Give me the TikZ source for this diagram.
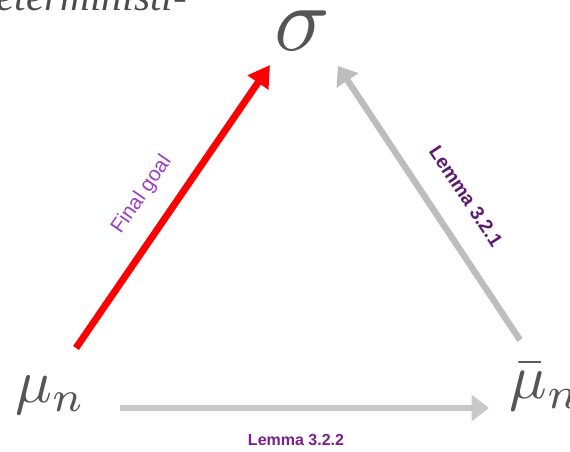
\documentclass[tikz,border=0pt]{standalone}
\usepackage{fontspec}
\setmainfont{Liberation Serif}
\setsansfont{Liberation Sans}
\usetikzlibrary{arrows.meta}
\definecolor{mathgray}{HTML}{555555}
\definecolor{arrgray}{HTML}{C8C8C8}
\definecolor{arrgrayb}{HTML}{BDBDBD}
\definecolor{lightpurple}{HTML}{9C3FC0}
\definecolor{darkpurple}{HTML}{5E1A72}
\definecolor{midpurple}{HTML}{7A1F8E}
\begin{document}
\begin{tikzpicture}[x=0.75pt,y=-0.75pt,
  mathlbl/.style={text=mathgray,inner sep=0pt,font=\fontsize{10}{12}\selectfont},
  redarr/.style={draw=red,line width=5.2pt,-{Triangle[length=16pt,width=18pt]}},
  grayarr/.style={draw=arrgray,line width=4.8pt,-{Triangle[length=13pt,width=19pt]}},
  lemmalbl/.style={font=\sffamily\bfseries,inner sep=0pt},
]
\useasboundingbox (0,0) rectangle (570,452);
\node[anchor=base west,inner sep=0pt,text=black!70,font={\fontsize{31}{34}\selectfont\itshape}] (cut) at (-4,11) {eterministi-};
\node[mathlbl,scale=6.9] (sigma) at (302,31) {$\sigma$};
\node[mathlbl,scale=4.6,anchor=west] (mu) at (14,395) {$\mu_n$};
\node[mathlbl,scale=4.7,anchor=west] (mubar) at (508,387) {$\bar\mu_n$};
\coordinate (r1) at (76,348);
\coordinate (r2) at (270,65);
\coordinate (g1) at (520,340);
\coordinate (g2) at (338,66);
\coordinate (h1) at (120,408);
\coordinate (h2) at (489,408);
\draw[redarr] (r1) -- (r2);
\draw[grayarr,draw=arrgrayb] (g1) -- (g2);
\draw[grayarr] (h1) -- (h2);
\node[font={\sffamily\fontsize{15.5}{17}\selectfont},text=lightpurple,rotate=55.4,inner sep=0pt] (fg) at (142,195) {Final goal};
\node[lemmalbl,font={\sffamily\bfseries\fontsize{14.5}{17}\selectfont},text=darkpurple,rotate=-56.4,inner sep=0pt] (l1) at (466,196) {Lemma 3.2.1};
\node[lemmalbl,font={\sffamily\bfseries\fontsize{12}{14}\selectfont},text=midpurple] (l2) at (296,440) {Lemma 3.2.2};
\end{tikzpicture}
\end{document}
